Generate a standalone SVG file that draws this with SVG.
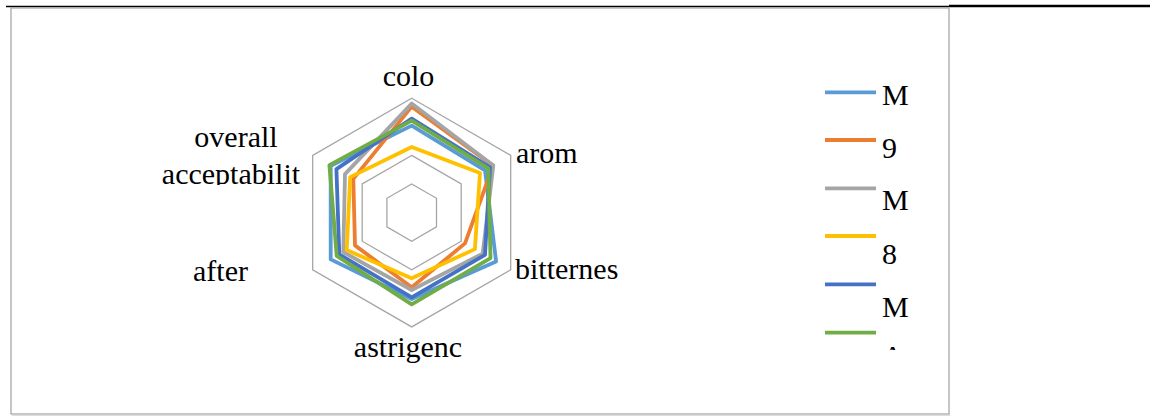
<svg xmlns="http://www.w3.org/2000/svg" width="1150" height="419" viewBox="0 0 1150 419">
<style>
.lbl{font-family:'Liberation Serif','Times New Roman',Tinos,'Noto Serif','DejaVu Serif',serif;font-size:30px;fill:#000}
.grid{fill:none;stroke:#a6a6a6;stroke-width:1.3}
.s{fill:none;stroke-width:3.8;stroke-linejoin:round}
.leg{stroke-width:3.8}
</style>
<defs>
<clipPath id="clipOA"><rect x="100" y="100" width="250" height="85"/></clipPath>
<clipPath id="clipLeg"><rect x="800" y="60" width="148" height="290"/></clipPath>
</defs>
<rect width="1150" height="419" fill="#fff"/>
<line x1="6" y1="6.5" x2="949" y2="6.5" stroke="#000" stroke-width="1.5"/>
<line x1="949" y1="6" x2="1150" y2="6" stroke="#000" stroke-width="2.5"/>
<g id="frame">
<rect x="11" y="8" width="938" height="406" fill="none" stroke="#a0a0a0" stroke-width="1.2"/>
<line x1="12" y1="415.2" x2="950" y2="415.2" stroke="#d0d0d0" stroke-width="1"/>
</g>
<g id="grid" transform="translate(411.7,212.6)">
<polygon class="grid" points="0,-114.3 99,-57.2 99,57.2 0,114.3 -99,57.2 -99,-57.2"/>
<polygon class="grid" points="0,-57.2 49.5,-28.6 49.5,28.6 0,57.2 -49.5,28.6 -49.5,-28.6"/>
<polygon class="grid" points="0,-28.6 24.8,-14.3 24.8,14.3 0,28.6 -24.8,14.3 -24.8,-14.3"/>
</g>
<g id="connectors" transform="translate(411.7,212.6)">
<polygon id="s1" class="s" stroke="#5b9bd5" points="0,-87 73.3,-42.3 84.4,48.8 0,86.4 -81,46.8 -81,-46.8"/>
<polygon id="s2" class="s" stroke="#ed7d31" points="0,-106 81.4,-47 53.3,30.8 0,74.7 -56.7,32.8 -58.4,-33.7"/>
<polygon id="s3" class="s" stroke="#a5a5a5" points="0,-109 81.6,-47.1 71,41 0,77.4 -68.4,39.5 -66.7,-38.5"/>
<polygon id="s4" class="s" stroke="#ffc000" points="0,-65.6 68.3,-39.5 63.2,36.5 0,65.7 -65,37.5 -61.5,-35.5"/>
<polygon id="s5" class="s" stroke="#4472c4" points="0,-94 78.3,-45.2 73.3,42.3 0,84.7 -72.4,41.8 -75.3,-43.5"/>
<polygon id="s6" class="s" stroke="#70ad47" points="0,-92 76.6,-44.3 78.8,45.5 0,91.7 -75,43.3 -82.3,-47.5"/>
</g>
<g id="axis-labels">
<text class="lbl" x="408.5" y="86" text-anchor="middle">colo</text>
<text class="lbl" x="516" y="163">arom</text>
<text class="lbl" x="515" y="279">bitternes</text>
<text class="lbl" x="408" y="357" text-anchor="middle">astrigenc</text>
<text class="lbl" x="193" y="281">after</text>
<g clip-path="url(#clipOA)">
<text class="lbl" x="236" y="147" text-anchor="middle">overall</text>
<text class="lbl" x="231" y="184" text-anchor="middle">acceptabilit</text>
</g>
</g>
<g id="legend">
<line class="leg" x1="825" y1="92.3" x2="876" y2="92.3" stroke="#5b9bd5"/>
<line class="leg" x1="825" y1="140" x2="876" y2="140" stroke="#ed7d31"/>
<line class="leg" x1="825" y1="188.3" x2="876" y2="188.3" stroke="#a5a5a5"/>
<line class="leg" x1="825" y1="236" x2="876" y2="236" stroke="#ffc000"/>
<line class="leg" x1="825" y1="284.3" x2="876" y2="284.3" stroke="#4472c4"/>
<line class="leg" x1="825" y1="332.7" x2="876" y2="332.7" stroke="#70ad47"/>
<g clip-path="url(#clipLeg)">
<text class="lbl" x="882" y="105">M</text>
<text class="lbl" x="882" y="158">9</text>
<text class="lbl" x="882" y="210">M</text>
<text class="lbl" x="882" y="264">8</text>
<text class="lbl" x="882" y="317">M</text>
<text class="lbl" x="882" y="366">A</text>
</g>
</g>
</svg>
